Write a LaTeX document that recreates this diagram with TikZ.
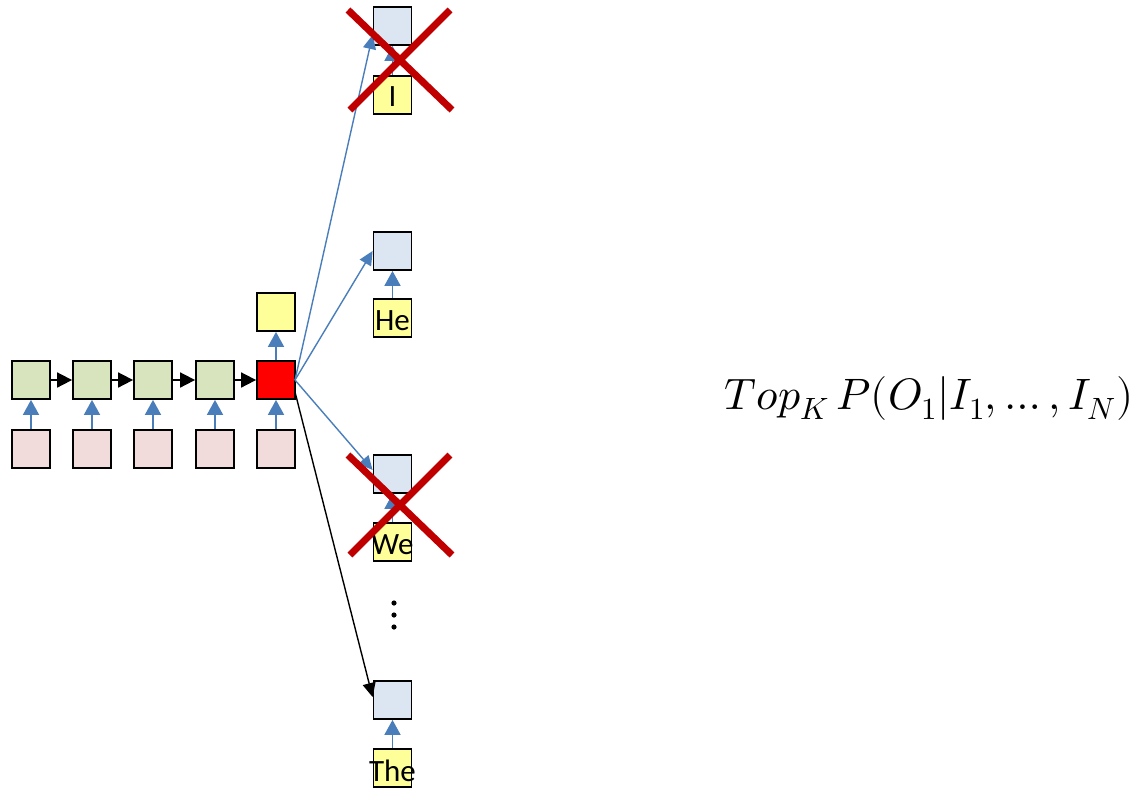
\documentclass[tikz,border=0pt]{standalone}
\usepackage{fontspec}
\usepackage{unicode-math}
\setmathfont{Latin Modern Math}
\setmainfont{Carlito}
\usetikzlibrary{arrows.meta}
\definecolor{cgreen}{HTML}{D7E4BD}
\definecolor{cpink}{HTML}{F2DCDB}
\definecolor{cyel}{HTML}{FFFF99}
\definecolor{cblue}{HTML}{DCE6F2}
\definecolor{cline}{HTML}{4A7EBB}
\definecolor{ccross}{HTML}{C00000}
\begin{document}
\begin{tikzpicture}[x=1pt,y=-1pt,
  box/.style={draw=black,line width=1.8pt,minimum size=38pt,inner sep=0pt},
  gbox/.style={box,fill=cgreen},
  pbox/.style={box,fill=cpink},
  ybox/.style={box,fill=cyel},
  bbox/.style={box,fill=cblue},
  rbox/.style={box,fill=red},
  lbl/.style={inner sep=0pt,font=\fontsize{31}{34}\selectfont},
  barrow/.style={draw=cline,line width=1.8pt,-{Triangle[width=16pt,length=15pt]}},
  karrow/.style={draw=black,line width=1.8pt,-{Triangle[width=15pt,length=15pt]}},
  darrow/.style={draw=cline,line width=1.4pt,-{Triangle[width=13pt,length=14pt]}},
  kdarrow/.style={draw=black,line width=1.4pt,-{Triangle[width=13pt,length=14pt]}},
  cross/.style={draw=ccross,line width=7pt}
]
\useasboundingbox (0,0) rectangle (1143,788);
% input row
\foreach \i/\x in {1/31,2/92,3/153,4/215,5/276}{
  \node[pbox] (p\i) at (\x,449) {};
}
\foreach \i/\x in {1/31,2/92,3/153,4/215}{
  \node[gbox] (g\i) at (\x,380) {};
}
\node[rbox] (g5) at (276,380) {};
\node[ybox] (out) at (276,312) {};
\foreach \i in {1,...,5}{
  \draw[barrow] (p\i) -- (g\i);
}
\foreach \i/\j in {1/2,2/3,3/4,4/5}{
  \draw[karrow] (g\i) -- (g\j);
}
\draw[barrow] (g5) -- (out);
% right column
\node[bbox] (b1) at (392.5,26) {};
\node[ybox] (y1) at (392.5,95) {};
\node[lbl] at (392.5,97) {I};
\node[bbox] (b2) at (392.5,251) {};
\node[ybox] (y2) at (392.5,318) {};
\node[lbl] at (392.5,321) {He};
\node[bbox] (b3) at (392.5,474) {};
\node[ybox] (y3) at (392.5,542) {};
\node[lbl] at (392.5,545) {We};
\node[bbox] (b4) at (392.5,700) {};
\node[ybox] (y4) at (392.5,768) {};
\node[lbl] at (392.5,771) {The};
\foreach \i in {1,...,4}{
  \draw[barrow] (y\i) -- (b\i);
}
\coordinate (o1) at (295,380);
\coordinate (o2) at (295,392);
\draw[darrow] (o1) -- (b1.west |- 0,35);
\draw[darrow] (o1) -- (b2.west);
\draw[darrow] (o1) -- (b3.west |- 0,470);
\draw[kdarrow] (o2) -- (b4.west |- 0,697);
% dots
\foreach \y in {603,615,627}{
  \fill (394,\y) circle (2.6pt);
}
% crosses
\coordinate (c1a) at (348,10); \coordinate (c1b) at (452,110);
\coordinate (c1c) at (450,10); \coordinate (c1d) at (350,110);
\draw[cross] (c1a) -- (c1b);
\draw[cross] (c1c) -- (c1d);
\coordinate (c2a) at (348,455); \coordinate (c2b) at (452,555);
\coordinate (c2c) at (450,455); \coordinate (c2d) at (350,555);
\draw[cross] (c2a) -- (c2b);
\draw[cross] (c2c) -- (c2d);
% formula
\node[inner sep=0pt,anchor=west,font=\fontsize{44}{48}\selectfont] (f) at (724,398) {$Top_K\,P(O_1|I_1,\ldots,I_N)$};
\end{tikzpicture}
\end{document}
